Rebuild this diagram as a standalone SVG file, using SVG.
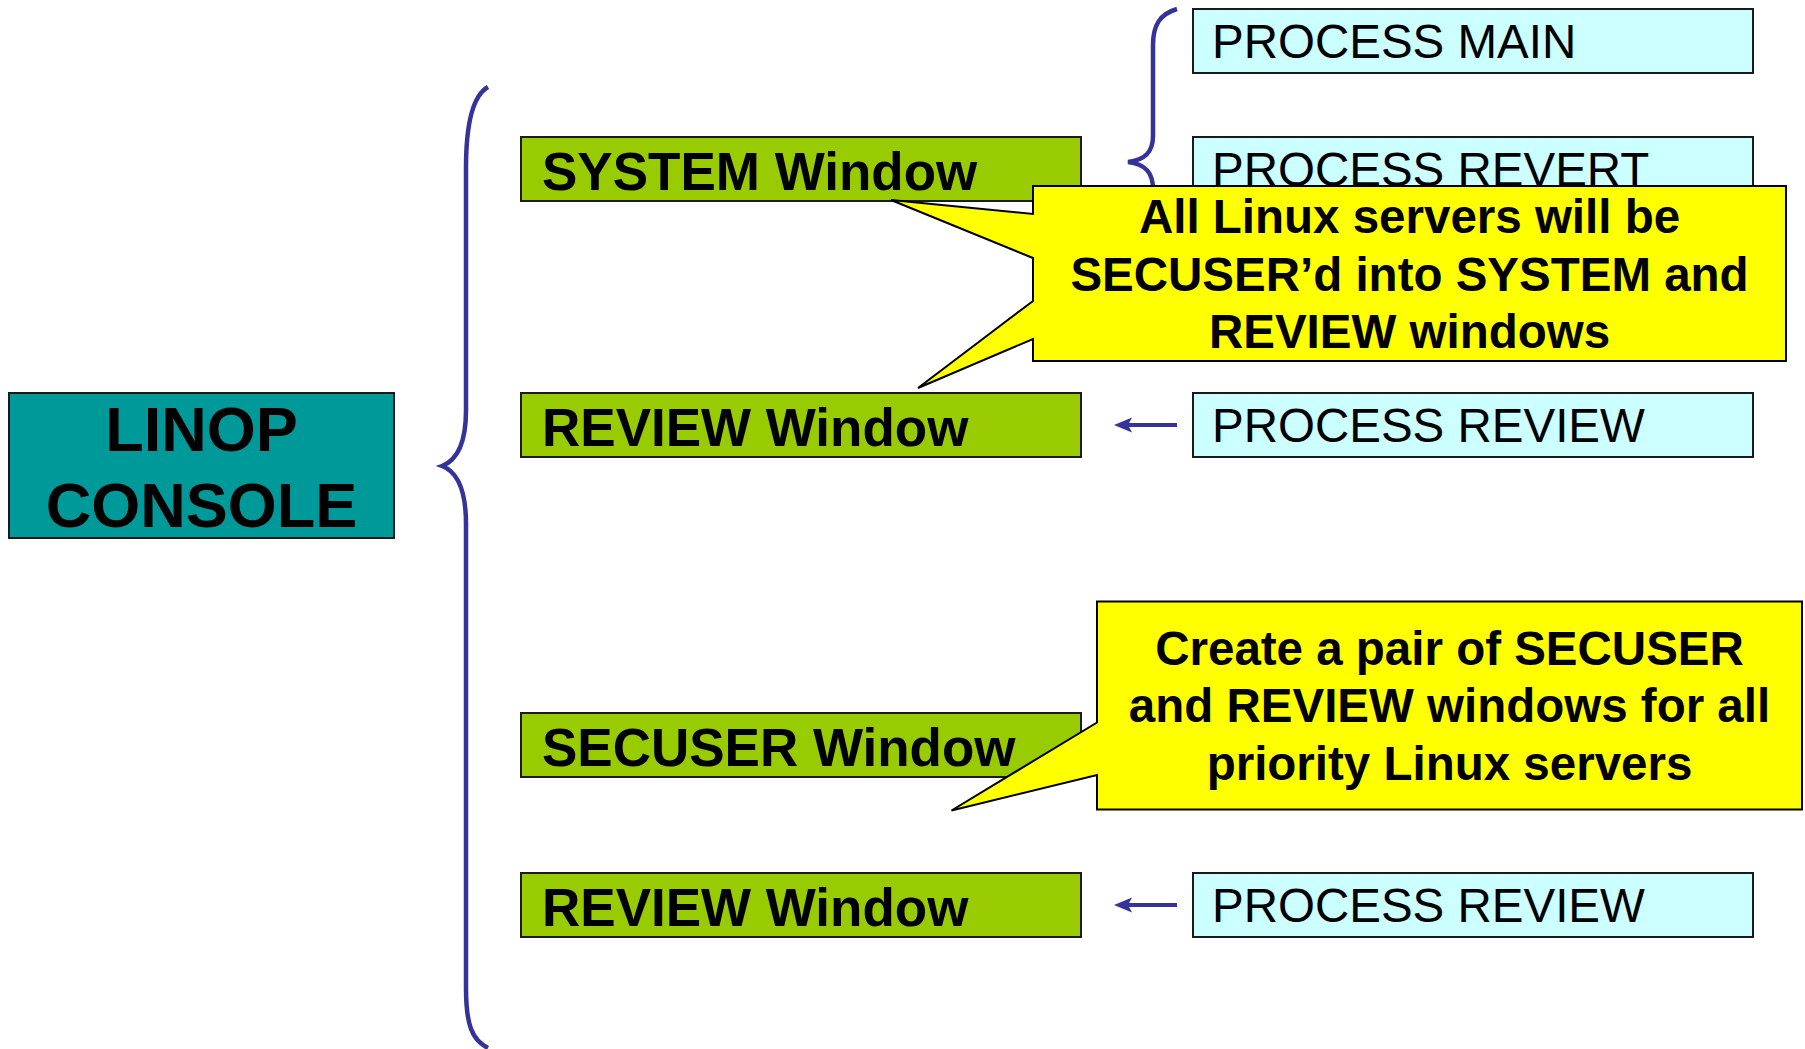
<svg xmlns="http://www.w3.org/2000/svg" width="1805" height="1049" viewBox="0 0 1805 1049">
  <style>
    .box { stroke: #1a1a1a; stroke-width: 2; }
    .teal { fill: #009999; }
    .green { fill: #99CC00; }
    .cyan { fill: #CCFFFF; }
    .callout { fill: #FFFF00; stroke: #000000; stroke-width: 2; stroke-linejoin: miter; }
    .brace { fill: none; stroke: #333399; stroke-width: 4.5; stroke-linecap: butt; }
    .arrow { fill: none; stroke: #333399; stroke-width: 4; }
    .bold { font-family: "Liberation Sans", Arial, sans-serif; font-weight: bold; fill: #000000; }
    .reg { font-family: "Liberation Sans", Arial, sans-serif; font-weight: normal; fill: #000000; }
    .big { font-size: 63px; }
    .win { font-size: 53px; }
    .proc { font-size: 47.5px; }
    .note { font-size: 47.5px; }
  </style>
  <defs>
    <marker id="arr" markerUnits="userSpaceOnUse" markerWidth="18" markerHeight="16" viewBox="0 -8 18 16" refX="6" refY="0" orient="auto">
      <path d="M18,0 L0,-7.5 L4,0 L0,7.5 Z" fill="#333399"/>
    </marker>
  </defs>
  <rect x="0" y="0" width="1805" height="1049" fill="#FFFFFF"/>

  <g id="connectors">
    <path class="brace" d="M488,87 C472,96 466,128 466,168 L466,410 C466,442 458,460 442,466 C458,472 466,490 466,524 L466,988 C466,1025 472,1040 488,1048"/>
    <path class="brace" d="M1177,9 C1160,14 1153,25 1153,45 L1153,136 C1153,152 1145,160 1128,162 C1145,164 1153,172 1153,189 L1153,279 C1153,299 1160,310 1177,315"/>
    <line class="arrow" x1="1177" y1="425" x2="1126" y2="425" marker-end="url(#arr)"/>
    <line class="arrow" x1="1177" y1="905" x2="1126" y2="905" marker-end="url(#arr)"/>
  </g>

  <g id="linop-console">
    <rect class="box teal" x="9" y="393" width="385" height="145"/>
    <text class="bold big" x="201.5" y="451" text-anchor="middle">LINOP</text>
    <text class="bold big" x="201.5" y="527" text-anchor="middle">CONSOLE</text>
  </g>

  <g id="system-window">
    <rect class="box green" x="521" y="137" width="560" height="64"/>
    <text class="bold win" x="542" y="190">SYSTEM Window</text>
  </g>
  <g id="review-window-1">
    <rect class="box green" x="521" y="393" width="560" height="64"/>
    <text class="bold win" x="542" y="446">REVIEW Window</text>
  </g>
  <g id="secuser-window">
    <rect class="box green" x="521" y="713" width="560" height="64"/>
    <text class="bold win" x="542" y="766">SECUSER Window</text>
  </g>
  <g id="review-window-2">
    <rect class="box green" x="521" y="873" width="560" height="64"/>
    <text class="bold win" x="542" y="926">REVIEW Window</text>
  </g>

  <g id="process-main">
    <rect class="box cyan" x="1193" y="9" width="560" height="64"/>
    <text class="reg proc" x="1212" y="58">PROCESS MAIN</text>
  </g>
  <g id="process-revert">
    <rect class="box cyan" x="1193" y="137" width="560" height="64"/>
    <text class="reg proc" x="1212" y="186">PROCESS REVERT</text>
  </g>
  <g id="process-review-1">
    <rect class="box cyan" x="1193" y="393" width="560" height="64"/>
    <text class="reg proc" x="1212" y="442">PROCESS REVIEW</text>
  </g>
  <g id="process-review-2">
    <rect class="box cyan" x="1193" y="873" width="560" height="64"/>
    <text class="reg proc" x="1212" y="922">PROCESS REVIEW</text>
  </g>

  <g id="callout-secuser-all">
    <path class="callout" d="M1033,186 L1786,186 L1786,361 L1033,361 L1033,339 L918,388 L1033,301 L1033,258 L891,200 L1033,214 Z"/>
    <text class="bold note" x="1409.5" y="233" text-anchor="middle">All Linux servers will be</text>
    <text class="bold note" x="1409.5" y="291" text-anchor="middle">SECUSER’d into SYSTEM and</text>
    <text class="bold note" x="1409.5" y="348" text-anchor="middle">REVIEW windows</text>
  </g>

  <g id="callout-create-pair">
    <path class="callout" d="M1097,601.5 L1802,601.5 L1802,809.5 L1097,809.5 L1097,775 L951.5,810.5 L1097,722.5 Z"/>
    <text class="bold note" x="1449.5" y="665" text-anchor="middle">Create a pair of SECUSER</text>
    <text class="bold note" x="1449.5" y="722" text-anchor="middle">and REVIEW windows for all</text>
    <text class="bold note" x="1449.5" y="780" text-anchor="middle">priority Linux servers</text>
  </g>
</svg>
